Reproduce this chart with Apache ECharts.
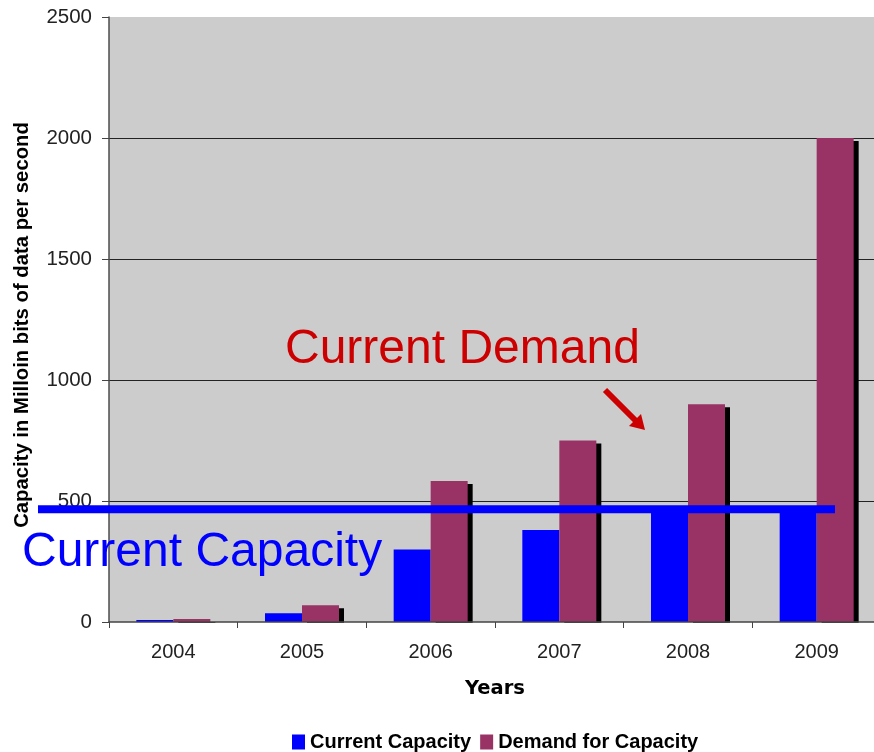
<!DOCTYPE html>
<html>
<head>
<meta charset="utf-8">
<script src="https://cdn.jsdelivr.net/npm/echarts@6/dist/echarts.min.js"></script>
<style>
html,body{margin:0;padding:0;background:#fff;}
#chart{width:874px;height:752px;}
</style>
</head>
<body>
<div id="chart"></div>
<script>
const years = ['2004', '2005', '2006', '2007', '2008', '2009'];
const currentCapacity = [8, 36, 300, 380, 470, 470];
const demandForCapacity = [12, 69, 583, 750, 900, 2000];
const yTicks = { min: 0, max: 2500, interval: 500 };
const capacityLevel = 466;
const capacityLabel = 'Current Capacity';
const demandLabel = 'Current Demand';
const yTitle = 'Capacity in Milloin bits of data per second';

const chart = echarts.init(document.getElementById('chart'), null, { renderer: 'canvas' });
const FONT = '"Liberation Sans", Arial, sans-serif';

const option = {
  animation: false,
  backgroundColor: '#ffffff',
  grid: {
    left: 109, width: 772, top: 17, height: 605,
    outerBoundsMode: 'none',
    containLabel: false,
    show: true, backgroundColor: '#cccccc', borderWidth: 0
  },
  legend: {
    left: 292, top: 732, padding: 0,
    itemWidth: 13, itemHeight: 15, itemGap: 9,
    icon: 'rect',
    textStyle: { fontFamily: FONT, fontWeight: 'bold', fontSize: 20, color: '#000' },
    data: ['Current Capacity', 'Demand for Capacity']
  },
  xAxis: {
    type: 'category',
    data: years,
    z: 5,
    name: 'Years',
    nameLocation: 'middle',
    nameGap: 57,
    nameTextStyle: { fontFamily: '"DejaVu Sans", sans-serif', fontWeight: 'bold', fontSize: 19.5, color: '#000' },
    axisLine: { show: true, lineStyle: { color: '#444', width: 1.5 } },
    axisTick: { show: true, length: 6, lineStyle: { color: '#444' } },
    axisLabel: { margin: 20, fontFamily: FONT, fontSize: 20, color: '#222' },
    splitLine: { show: false }
  },
  yAxis: {
    type: 'value',
    min: yTicks.min, max: yTicks.max, interval: yTicks.interval,
    axisLine: { show: true, lineStyle: { color: '#4d4d4d', width: 1.5 } },
    axisTick: { show: true, length: 7, lineStyle: { color: '#444' } },
    axisLabel: { margin: 17, fontFamily: FONT, fontSize: 20.5, color: '#222', formatter: v => String(v) },
    splitLine: { show: true, showMaxLine: false, showMinLine: false, lineStyle: { color: '#222', width: 1 } }
  },
  series: [
    {
      name: 'Current Capacity',
      type: 'bar',
      data: currentCapacity,
      barWidth: 37,
      barGap: '0%',
      itemStyle: { color: '#0000ff' }
    },
    {
      name: 'Demand for Capacity',
      type: 'bar',
      data: demandForCapacity,
      barWidth: 37,
      barGap: '0%',
      itemStyle: { color: '#993366', shadowColor: '#000', shadowOffsetX: 5, shadowOffsetY: 3, shadowBlur: 0 }
    }
  ]
};
chart.setOption(option);

const lineY = chart.convertToPixel({ gridIndex: 0 }, [0, capacityLevel])[1];
const baseY = chart.convertToPixel({ gridIndex: 0 }, [0, 0])[1];

chart.setOption({
  graphic: [
    {
      type: 'rect', z: 4, silent: true,
      shape: { x: 110, y: baseY + 0.7, width: 770, height: 4 },
      style: { fill: '#ffffff' }
    },
    {
      type: 'text', z: 100,
      x: 22, y: 325, rotation: Math.PI / 2,
      style: { text: yTitle, fill: '#000', font: 'bold 20.3px ' + FONT, align: 'center', verticalAlign: 'middle' }
    },
    {
      type: 'line', z: 100,
      shape: { x1: 38, y1: lineY, x2: 835, y2: lineY },
      style: { stroke: '#0000ff', lineWidth: 8 }
    },
    {
      type: 'text', z: 100, left: 22, top: 529,
      style: { text: capacityLabel, fill: '#0000ff', font: '48px ' + FONT }
    },
    {
      type: 'text', z: 100, left: 285, top: 326,
      style: { text: demandLabel, fill: '#cc0000', font: '48px ' + FONT }
    },
    {
      type: 'line', z: 100,
      shape: { x1: 605, y1: 390, x2: 636, y2: 421 },
      style: { stroke: '#cc0000', lineWidth: 6 }
    },
    {
      type: 'polygon', z: 100,
      shape: { points: [[645, 430], [641, 414], [629, 426]] },
      style: { fill: '#cc0000' }
    }
  ]
});
</script>
</body>
</html>
